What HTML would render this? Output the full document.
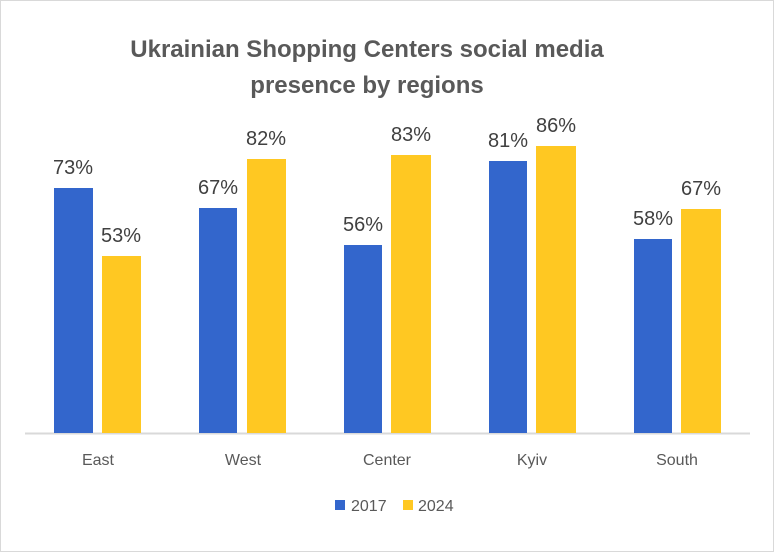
<!DOCTYPE html>
<html><head><meta charset="utf-8"><style>
html,body{margin:0;padding:0;background:#fff}
</style></head><body>
<svg width="774" height="552" xmlns="http://www.w3.org/2000/svg" font-family="Liberation Sans, sans-serif">
<rect x="0.5" y="0.5" width="773" height="551" fill="#fff" stroke="#d9d9d9"/>
<text x="367" y="57" text-anchor="middle" font-size="24" font-weight="bold" fill="#595959">Ukrainian Shopping Centers social media</text>
<text x="367" y="93" text-anchor="middle" font-size="24" font-weight="bold" fill="#595959">presence by regions</text>
<line x1="25" y1="433.5" x2="750" y2="433.5" stroke="#d9d9d9" stroke-width="2"/>
<g fill="#3366CC">
<rect x="54" y="188" width="39" height="245"/>
<rect x="199" y="208" width="38" height="225"/>
<rect x="344" y="245" width="38" height="188"/>
<rect x="489" y="161" width="38" height="272"/>
<rect x="634" y="239" width="38" height="194"/>
</g>
<g fill="#FFC822">
<rect x="102" y="256" width="39" height="177"/>
<rect x="247" y="159" width="39" height="274"/>
<rect x="391" y="155" width="40" height="278"/>
<rect x="536" y="146" width="40" height="287"/>
<rect x="681" y="209" width="40" height="224"/>
</g>
<g font-size="20" fill="#404040" text-anchor="middle">
<text x="73" y="174">73%</text><text x="121" y="242">53%</text>
<text x="218" y="194">67%</text><text x="266" y="145">82%</text>
<text x="363" y="231">56%</text><text x="411" y="141">83%</text>
<text x="508" y="147">81%</text><text x="556" y="132">86%</text>
<text x="653" y="225">58%</text><text x="701" y="195">67%</text>
</g>
<g font-size="16" fill="#595959" text-anchor="middle">
<text x="98" y="465">East</text><text x="243" y="465">West</text>
<text x="387" y="465">Center</text><text x="532" y="465">Kyiv</text>
<text x="677" y="465">South</text>
</g>
<rect x="335" y="500" width="10" height="10" fill="#3366CC"/>
<text x="351" y="511" font-size="16" fill="#595959">2017</text>
<rect x="403" y="500" width="10" height="10" fill="#FFC822"/>
<text x="418" y="511" font-size="16" fill="#595959">2024</text>
</svg>
</body></html>
